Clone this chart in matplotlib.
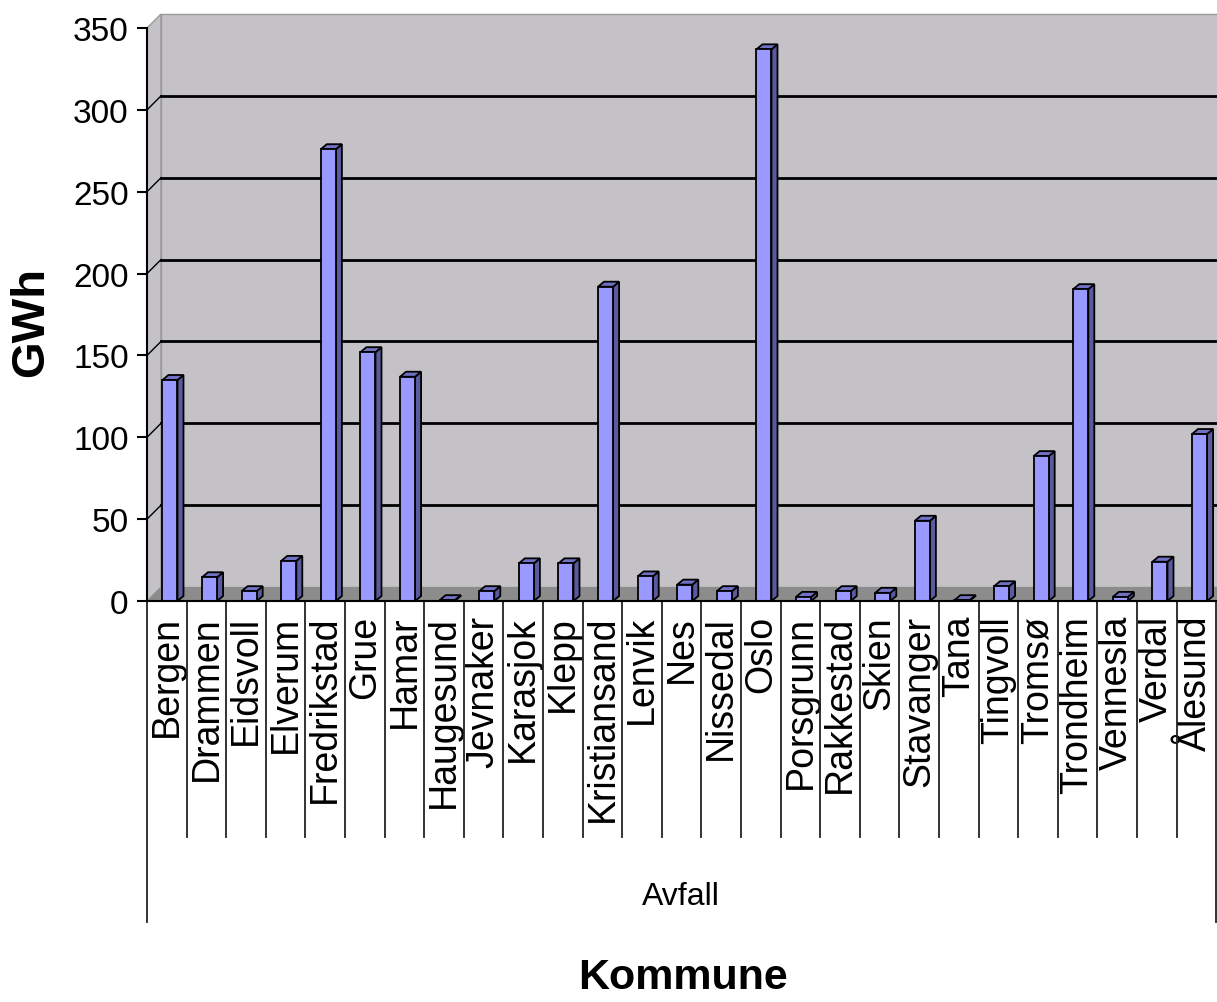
import matplotlib.pyplot as plt
from matplotlib.patches import Polygon, Rectangle
from matplotlib.transforms import blended_transform_factory

# data
kommuner = ["Bergen", "Drammen", "Eidsvoll", "Elverum", "Fredrikstad", "Grue",
            "Hamar", "Haugesund", "Jevnaker", "Karasjok", "Klepp", "Kristiansand",
            "Lenvik", "Nes", "Nissedal", "Oslo", "Porsgrunn", "Rakkestad", "Skien",
            "Stavanger", "Tana", "Tingvoll", "Tromsø", "Trondheim", "Vennesla",
            "Verdal", "Ålesund"]
gwh = [135, 14.5, 6, 24.5, 276, 152, 137, 0.5, 6, 23, 23, 192,
       15, 10, 6, 337, 2.5, 6, 5, 49, 0.5, 9, 88.5, 190.5, 2.5, 24, 102]
y_ticks = [0, 50, 100, 150, 200, 250, 300, 350]
group_label = "Avfall"
x_title = "Kommune"
y_title = "GWh"

W, H = 1217, 1003
PX_UNIT = 1.637   # pixels per GWh
CAT_PX = 39.6     # pixels per category

NARROW = ["Liberation Sans Narrow", "Liberation Sans", "DejaVu Sans"]
REGULAR = ["Liberation Sans", "DejaVu Sans"]

fig = plt.figure(figsize=(W / 100, H / 100), dpi=100)
ax = fig.add_axes([147 / W, (H - 602) / H, (W - 147) / W, 588 / H])
xmax = (W - 147) / CAT_PX
ymax = 588 / PX_UNIT
ax.set_xlim(0, xmax)
ax.set_ylim(0, ymax)

wall_dx = 14 / CAT_PX
wall_dy = 14 / PX_UNIT
bar_dx = 6 / CAT_PX
bar_dy = 5 / PX_UNIT
n = len(kommuner)
top = y_ticks[-1]

wall_col = "#c4c2c6"
# walls and floor
ax.add_patch(Polygon([(0, 0), (wall_dx, wall_dy), (wall_dx, top + wall_dy), (0, top)],
                     closed=True, fc=wall_col, ec="#9a9a9a", lw=1, zorder=0.5))
ax.add_patch(Rectangle((wall_dx, wall_dy), xmax + 1, top, fc=wall_col, ec="#9a9a9a",
                       lw=1, zorder=0.5))
ax.add_patch(Polygon([(0, 0), (n + 1, 0), (n + 1 + wall_dx, wall_dy), (wall_dx, wall_dy)],
                     closed=True, fc="#8c8c8c", ec="none", zorder=0.6))

# gridlines on back wall + short diagonals on side wall
for v in y_ticks[1:-1]:
    ax.plot([wall_dx, xmax + 1], [v + wall_dy] * 2, color="black", lw=2, zorder=1)
    ax.plot([0, wall_dx], [v, v + wall_dy], color="black", lw=1, zorder=1)

# 3d-looking bars
for i, v in enumerate(gwh):
    x0 = i + 0.39
    x1 = i + 0.77
    ax.add_patch(Polygon([(x1, 0), (x1 + bar_dx, bar_dy), (x1 + bar_dx, v + bar_dy), (x1, v)],
                         closed=True, fc="#5a5a9e", ec="black", lw=1.3, zorder=3))
    ax.add_patch(Polygon([(x0, v), (x0 + bar_dx, v + bar_dy), (x1 + bar_dx, v + bar_dy), (x1, v)],
                         closed=True, fc="#7070c4", ec="black", lw=1.3, zorder=3))
    ax.add_patch(Rectangle((x0, 0), x1 - x0, v, fc="#9999ff", ec="black", lw=1.3, zorder=4))

for s in ["top", "right"]:
    ax.spines[s].set_visible(False)
ax.spines["left"].set_bounds(0, top)
ax.spines["left"].set_linewidth(1.5)
ax.spines["bottom"].set_linewidth(1.5)
ax.spines["left"].set_zorder(5)
ax.spines["bottom"].set_zorder(5)

ax.set_yticks(y_ticks)
ax.set_yticklabels([str(t) for t in y_ticks], family=NARROW, fontsize=24)
ax.tick_params(axis="y", length=7.2, width=1.5, pad=6)

ax.set_xticks([i + 0.5 for i in range(n)])
ax.set_xticklabels(kommuner, rotation=90, family=REGULAR, fontsize=27)
ax.tick_params(axis="x", length=0, pad=10)

# category table lines below the axis
tr = blended_transform_factory(ax.transData, fig.transFigure)
for i in range(1, n):
    ax.plot([i, i], [(H - 602) / H, (H - 838) / H], color="#222222", lw=1.3,
            transform=tr, clip_on=False)
for i in [0, n]:
    ax.plot([i, i], [(H - 602) / H, (H - 923) / H], color="#222222", lw=1.3,
            transform=tr, clip_on=False)

fig.text(681 / W, 1 - 897 / H, group_label, family=NARROW, fontsize=23,
         ha="center", va="center")
fig.text(683 / W, 1 - 978 / H, x_title, family=NARROW, fontsize=31,
         fontweight="bold", ha="center", va="center")
fig.text(31 / W, 1 - 322 / H, y_title, family=REGULAR, fontsize=34,
         fontweight="bold", rotation=90, ha="center", va="center")

fig.savefig("out.png", dpi=100)
